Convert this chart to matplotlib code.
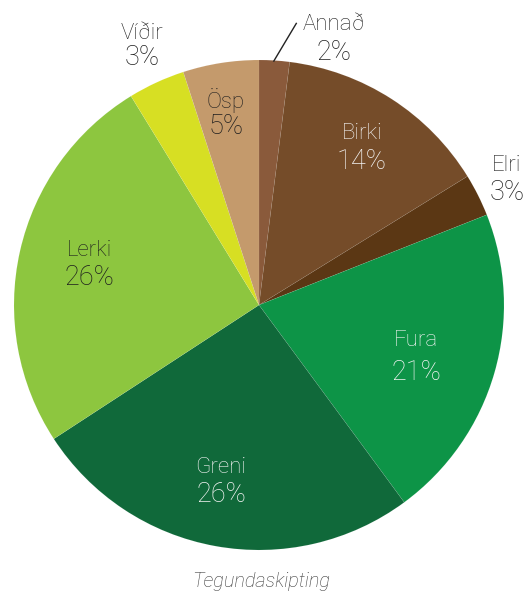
import matplotlib
matplotlib.use("Agg")
import matplotlib.pyplot as plt
from matplotlib.patches import Rectangle
import numpy as np

categories = ["Annað", "Birki", "Elri", "Fura", "Greni", "Lerki", "Víðir", "Ösp"]
values = [2.0, 14.2, 2.8, 20.9, 25.9, 25.45, 3.75, 5.0]
pct_labels = ["2%", "14%", "3%", "21%", "26%", "26%", "3%", "5%"]
caption = "Tegundaskipting"

colors = ["#8A5A3B", "#754C29", "#5B3714", "#0D9447", "#10693A", "#8DC63F", "#D7DF23", "#C49A6C"]
dark, light = "#1E1E1E", "#F4F4F4"
text_colors = [dark, light, dark, light, light, dark, dark, dark]
label_frac = [1.14, 0.777, 1.14, 0.671, 0.725, 0.714, 1.17, 0.80]
angle_off = [-11.9, 0.0, 0.8, -1.3, -2.1, -1.7, -0.75, 0.7]
line_gap = [28, 28, 27, 32, 27, 27, 24, 24]

W, H = 528, 591
fig = plt.figure(figsize=(W / 100, H / 100), dpi=100)
ax = fig.add_axes([0, 0, 1, 1])

cx, cy, R = 259, H - 305, 245
wedges, _ = ax.pie(values, colors=colors, startangle=90, counterclock=False,
                   center=(cx, cy), radius=R, frame=True,
                   wedgeprops=dict(edgecolor=(1, 1, 1, 0.10), linewidth=0.4))
ax.set_xlim(0, W)
ax.set_ylim(0, H)
ax.set_aspect("equal")
ax.axis("off")
clip = Rectangle((0, H - 547), W, H, transform=ax.transData)
for w in wedges:
    w.set_clip_path(clip)

fam = ["Roboto", "DejaVu Sans"]
for i, w in enumerate(wedges):
    mid = np.deg2rad((w.theta1 + w.theta2) / 2 + angle_off[i])
    r = label_frac[i] * R
    x = cx + r * np.cos(mid)
    y = cy + r * np.sin(mid)
    g = line_gap[i]
    ax.text(x, y + g / 2 - 8, categories[i], ha="center", va="baseline",
            color=text_colors[i], family=fam, fontsize=16, fontweight="light")
    ax.text(x, y - g / 2 - 10, pct_labels[i], ha="center", va="baseline",
            color=text_colors[i], family=fam, fontsize=19.5, fontweight="light")

# leader line for Annað
w0 = wedges[0]
m0 = (w0.theta1 + w0.theta2) / 2
a1, a2 = np.deg2rad(m0 + 0.2), np.deg2rad(m0 - 4.0)
ax.plot([cx + 0.995 * R * np.cos(a1), cx + 1.162 * R * np.cos(a2)],
        [cy + 0.995 * R * np.sin(a1), cy + 1.162 * R * np.sin(a2)],
        color="#222222", lw=1.0, solid_capstyle="butt")

ax.text(261, H - 586.7, caption, ha="center", va="baseline", fontsize=14.3,
        style="italic", color="#383838", family=fam, fontweight="light")

fig.savefig("out.png", dpi=100)
